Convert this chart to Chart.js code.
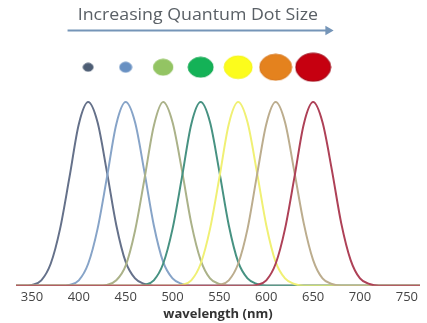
<!DOCTYPE html>
<html>
<head>
<meta charset="utf-8">
<script src="https://cdn.jsdelivr.net/npm/chart.js@4/dist/chart.umd.min.js"></script>
<style>
  html, body { margin: 0; padding: 0; background: #ffffff; }
  #wrap { width: 427px; height: 323px; position: relative; }
</style>
</head>
<body>
<div id="wrap"><canvas id="spectra"></canvas></div>
<script>
// Emission wavelengths sampled every 10 nm
const wavelengths = [330,340,350,360,370,380,390,400,410,420,430,440,450,460,470,480,490,500,510,520,
                     530,540,550,560,570,580,590,600,610,620,630,640,650,660,670,680,690,700,710,720,
                     730,740,750,760,770];

// Axis tick labels
const tickValues = [350,400,450,500,550,600,650,700,750];

// Relative emission intensity of each dot size (peak = 100)
const emission410 = [0,0,0.5,3,12,31,59,88,100,89,62,33,13,4,1,0,0,0,0,0,0,0,0,0,0,0,0,0,0,0,0,0,0,0,0,0,0,0,0,0,0,0,0,0,0];
const emission450 = [0,0,0,0,0,0,0.5,3,12,31,59,88,100,89,62,33,13,4,1,0,0,0,0,0,0,0,0,0,0,0,0,0,0,0,0,0,0,0,0,0,0,0,0,0,0];
const emission490 = [0,0,0,0,0,0,0,0,0,0,0.5,3,11,30,58,87,100,89,63,34,14,4,1,0,0,0,0,0,0,0,0,0,0,0,0,0,0,0,0,0,0,0,0,0,0];
const emission530 = [0,0,0,0,0,0,0,0,0,0,0,0,0,0,0.5,3,12,31,59,88,100,89,62,33,13,4,1,0,0,0,0,0,0,0,0,0,0,0,0,0,0,0,0,0,0];
const emission570 = [0,0,0,0,0,0,0,0,0,0,0,0,0,0,0,0,0,0,0.5,3,12,31,59,88,100,89,62,33,13,4,1,0,0,0,0,0,0,0,0,0,0,0,0,0,0];
const emission610 = [0,0,0,0,0,0,0,0,0,0,0,0,0,0,0,0,0,0,0,0,0,0,0.5,3,12,31,60,88,100,89,62,34,14,4,1,0,0,0,0,0,0,0,0,0,0];
const emission650 = [0,0,0,0,0,0,0,0,0,0,0,0,0,0,0,0,0,0,0,0,0,0,0,0,0,0,0.5,3,12,31,59,88,100,89,63,34,14,4,1,0,0,0,0,0,0];

// Peak wavelength of each dot size (small to large)
const peakWavelengths = [410,450,490,530,570,610,650];

// ---- styling ----
const curveColors = ['#65718a','#87a4c8','#abb289','#479282','#f0f074','#bcad8e','#ae4157'];
const dotColors   = ['#4d5d74','#6890c2','#93c463','#14b257','#fcfc1c','#e4821e','#c60010'];
const dotEdge     = ['#4d5d74','#6890c2','#93c463','#14a852','#f4f41a','#d8781c','#9c0010'];
const dotHalfW    = [5, 6, 9.7, 12.5, 14, 16, 17.5];
const dotHalfH    = [4, 5, 8, 10, 11.3, 13, 14];
const dotRowLevel = 119;          // y level of the dot row
const arrowSpan   = [388, 666];   // wavelength range covered by the arrow
const arrowLevel  = 139;
const captionLevel = 147;
const captionText = 'Increasing Quantum Dot Size';

const emissionSeries = [emission410, emission450, emission490, emission530, emission570, emission610, emission650];

// Slightly oval dot sprites
function ovalSprite(i) {
  const c = document.createElement('canvas');
  c.width = Math.ceil(dotHalfW[i] * 2 + 2);
  c.height = Math.ceil(dotHalfH[i] * 2 + 2);
  const g = c.getContext('2d');
  g.beginPath();
  g.ellipse(c.width / 2, c.height / 2, dotHalfW[i], dotHalfH[i], 0, 0, Math.PI * 2);
  g.fillStyle = dotColors[i];
  g.fill();
  g.lineWidth = 1;
  g.strokeStyle = dotEdge[i];
  g.stroke();
  return c;
}

const curveDatasets = emissionSeries.map((vals, i) => ({
  type: 'line',
  data: wavelengths.map((w, k) => ({ x: w, y: vals[k] })),
  borderColor: curveColors[i],
  borderWidth: 2,
  pointRadius: 0,
  fill: false,
  cubicInterpolationMode: 'monotone',
  order: 10 - i
}));

const dotDataset = {
  type: 'line',
  showLine: false,
  data: peakWavelengths.map(w => ({ x: w, y: dotRowLevel })),
  pointRadius: 1,
  pointStyle: peakWavelengths.map((w, i) => ovalSprite(i)),
  order: 0
};

const arrowDataset = {
  type: 'line',
  data: arrowSpan.map(w => ({ x: w, y: arrowLevel })),
  borderColor: '#7595b8',
  borderWidth: 2,
  pointRadius: [0, 5.5],
  pointStyle: 'triangle',
  pointRotation: 90,
  pointBackgroundColor: '#7595b8',
  pointBorderWidth: 0,
  order: 1
};

// Caption written above the arrow
const captionPlugin = {
  id: 'caption',
  afterDatasetsDraw(chart) {
    const { ctx, scales: { x, y } } = chart;
    const cx = x.getPixelForValue((arrowSpan[0] + arrowSpan[1]) / 2);
    const cy = y.getPixelForValue(captionLevel);
    ctx.save();
    ctx.translate(cx, cy);
    ctx.scale(1.11, 1);
    ctx.font = '16px "Open Sans", sans-serif';
    ctx.fillStyle = '#5a6066';
    ctx.textAlign = 'center';
    ctx.textBaseline = 'middle';
    ctx.fillText(captionText, 0, 0);
    ctx.restore();
  }
};

new Chart(document.getElementById('spectra'), {
  type: 'line',
  data: { datasets: [...curveDatasets, arrowDataset, dotDataset] },
  options: {
    responsive: true,
    maintainAspectRatio: false,
    animation: false,
    layout: { autoPadding: false, padding: { left: 16, right: 7, top: 0, bottom: 0 } },
    plugins: { legend: { display: false }, tooltip: { enabled: false } },
    scales: {
      x: {
        type: 'linear',
        min: 333,
        max: 764,
        afterBuildTicks: axis => { axis.ticks = tickValues.map(v => ({ value: v })); },
        afterFit: axis => { axis.paddingLeft = 0; axis.paddingRight = 0; },
        grid: { display: false, drawTicks: false },
        border: { display: false },
        ticks: {
          padding: 4,
          color: '#444444',
          font: { family: '"Open Sans", sans-serif', size: 13 },
          maxRotation: 0,
          autoSkip: false
        },
        title: {
          display: true,
          text: 'wavelength (nm)',
          color: '#333333',
          font: { family: '"Open Sans", sans-serif', size: 13, weight: 'bold' },
          padding: { top: -3, bottom: 1 }
        }
      },
      y: {
        display: false,
        min: 0,
        max: 155.6
      }
    }
  },
  plugins: [captionPlugin]
});
</script>
</body>
</html>
